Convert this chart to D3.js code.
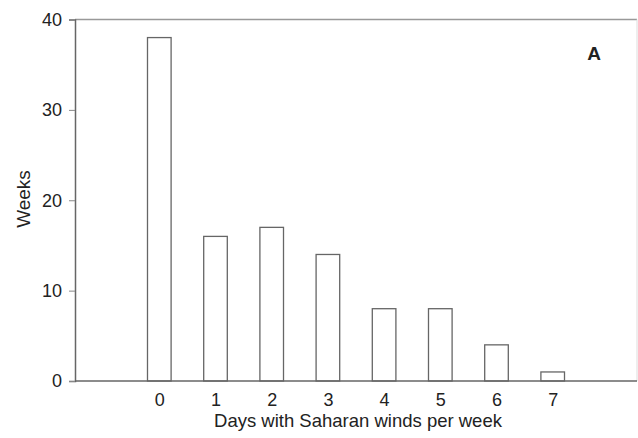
<!DOCTYPE html>
<html><head><meta charset="utf-8">
<script src="https://cdn.jsdelivr.net/npm/d3@7"></script>
<style>body{margin:0;background:#fff}svg{display:block}text{font-family:"Liberation Sans",Arial,sans-serif;fill:#222}</style>
</head><body><svg id="c" width="638" height="438"></svg>
<script>
const categories = [0, 1, 2, 3, 4, 5, 6, 7];
const weeks = [38, 16, 17, 14, 8, 8, 4, 1];
const yTicks = [0, 10, 20, 30, 40];

const svg = d3.select("#c");
const m = {l: 75, r: 637, t: 19.5, b: 381};
const x = d3.scaleLinear().domain([-1.5, 8.5]).range([m.l, m.r]);
const y = d3.scaleLinear().domain([0, 40]).range([m.b, m.t]);
const bw = 0.42;

// frame
svg.append("line").attr("x1", m.l).attr("x2", m.r).attr("y1", m.t).attr("y2", m.t).attr("stroke", "#999").attr("stroke-width", 1.5);
svg.append("line").attr("x1", m.r).attr("x2", m.r).attr("y1", m.t).attr("y2", m.b).attr("stroke", "#ddd").attr("stroke-width", 1);

// bars
svg.selectAll("rect.bar").data(categories).enter().append("rect")
  .attr("x", (d) => x(d - bw / 2))
  .attr("width", x(bw) - x(0))
  .attr("y", (d, i) => y(weeks[i]))
  .attr("height", (d, i) => y(0) - y(weeks[i]))
  .attr("fill", "#fff").attr("stroke", "#666").attr("stroke-width", 1.3);

// y axis
const ya = svg.append("g").attr("transform", `translate(${m.l},0)`)
  .call(d3.axisLeft(y).tickValues(yTicks).tickSize(6).tickPadding(7));
ya.select(".domain").attr("stroke", "#666").attr("stroke-width", 1.5);
ya.selectAll(".tick line").attr("stroke", "#888");
ya.selectAll("text").style("font-size", "18px").attr("fill", "#222");

// x axis
const xa = svg.append("g").attr("transform", `translate(0,${m.b})`)
  .call(d3.axisBottom(x).tickValues(categories).tickSize(0).tickPadding(12).tickFormat(d3.format("d")));
xa.select(".domain").attr("d", `M${m.l},0H${m.r}`).attr("stroke", "#666").attr("stroke-width", 1.5);
xa.selectAll("text").style("font-size", "18px").attr("fill", "#222");

svg.append("text").attr("x", 358).attr("y", 427).attr("text-anchor", "middle")
  .style("font-size", "18.5px").text("Days with Saharan winds per week");
svg.append("text").attr("transform", "translate(30,199) rotate(-90)").attr("text-anchor", "middle")
  .style("font-size", "19px").text("Weeks");
svg.append("text").attr("x", 594).attr("y", 60).attr("text-anchor", "middle")
  .style("font-size", "19px").style("font-weight", "bold").text("A");
</script></body></html>
